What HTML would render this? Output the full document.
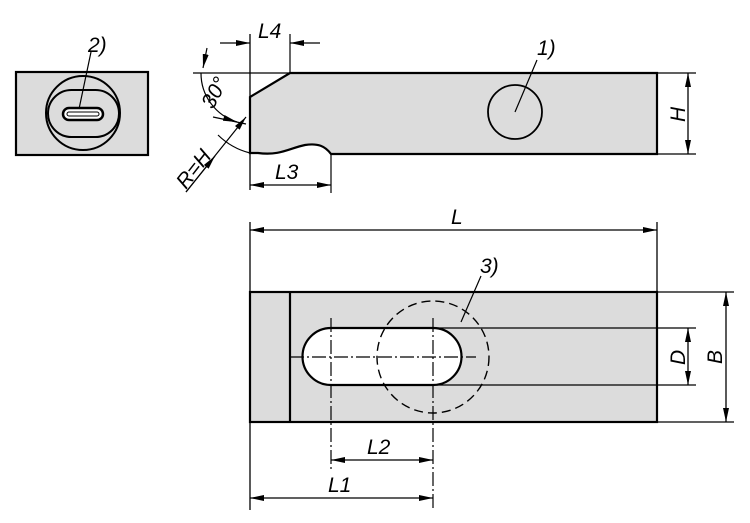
<!DOCTYPE html>
<html><head><meta charset="utf-8"><style>
html,body{margin:0;padding:0;background:#fff}
svg{display:block}
text{font-family:"Liberation Sans",sans-serif;font-style:italic;font-size:21px;fill:#000}
</style></head><body>
<svg width="750" height="523" viewBox="0 0 750 523" xmlns="http://www.w3.org/2000/svg">
<defs>
<marker id="a" viewBox="0 0 14 6" refX="14" refY="3" markerWidth="14" markerHeight="6" orient="auto-start-reverse" markerUnits="userSpaceOnUse"><path d="M0,0 L14,3 L0,6z" fill="#000"/></marker>
</defs>
<g stroke="#000" fill="none">
<!-- left view -->
<rect x="16" y="72" width="132" height="83" fill="#dcdcdc" stroke-width="2.2"/>
<circle cx="83" cy="113" r="37" stroke-width="2"/>
<rect x="48" y="90" width="71" height="47" rx="23.5" stroke-width="2"/>
<rect x="63" y="108" width="40" height="12" rx="6" fill="#fff" stroke-width="2.5"/>
<rect x="67" y="112" width="32" height="4" rx="2" stroke-width="1"/>
<line x1="79" y1="109" x2="91" y2="52" stroke-width="1.2"/>

<!-- top view -->
<path d="M290,73 L657,73 L657,154 L331,154 C325,146 318,143 305,145 C290,148 280,156 258,153 L250,153 L250,97 Z" fill="#dcdcdc" stroke-width="2.2"/>
<circle cx="515" cy="112" r="27" stroke-width="1.8"/>
<line x1="515" y1="112" x2="537" y2="60" stroke-width="1.2"/>
<line x1="657" y1="73" x2="696" y2="73" stroke-width="1.2"/>
<line x1="657" y1="154" x2="696" y2="154" stroke-width="1.2"/>
<line x1="688" y1="73" x2="688" y2="154" stroke-width="1.3" marker-start="url(#a)" marker-end="url(#a)"/>
<!-- L4 -->
<line x1="250" y1="34" x2="250" y2="190" stroke-width="1.3"/>
<line x1="290" y1="34" x2="290" y2="73" stroke-width="1.2"/>
<line x1="220" y1="43" x2="250" y2="43" stroke-width="1.2" marker-end="url(#a)"/>
<line x1="320" y1="43" x2="290" y2="43" stroke-width="1.2" marker-end="url(#a)"/>
<line x1="193" y1="73" x2="290" y2="73" stroke-width="1.2"/>
<!-- L3 -->
<line x1="331" y1="154" x2="331" y2="193" stroke-width="1.2"/>
<line x1="250" y1="185" x2="331" y2="185" stroke-width="1.2" marker-start="url(#a)" marker-end="url(#a)"/>
<!-- angle arc & R -->
<line x1="207" y1="48" x2="203" y2="68" stroke-width="1.2" marker-end="url(#a)"/>
<path d="M201,73 A51,51 0 0 0 237,122" stroke-width="1.2" marker-end="url(#a)"/>
<line x1="213" y1="117" x2="246" y2="124" stroke-width="1.2"/>
<path d="M218,135 A70,70 0 0 0 250,153" stroke-width="1.2"/>
<line x1="186" y1="192" x2="246" y2="117" stroke-width="1.2" marker-end="url(#a)"/>
<line x1="186" y1="192" x2="215" y2="156" stroke-width="1.2" marker-end="url(#a)"/>

<!-- bottom view -->
<line x1="250" y1="222" x2="250" y2="510" stroke-width="1.3"/>
<line x1="657" y1="222" x2="657" y2="292" stroke-width="1.3"/>
<line x1="250" y1="230" x2="657" y2="230" stroke-width="1.2" marker-start="url(#a)" marker-end="url(#a)"/>
<rect x="250" y="292" width="407" height="130" fill="#dcdcdc" stroke-width="2.2"/>
<line x1="290" y1="292" x2="290" y2="422" stroke-width="2.2"/>
<line x1="433" y1="328" x2="696" y2="328" stroke-width="1.2"/>
<line x1="433" y1="385" x2="696" y2="385" stroke-width="1.2"/>
<line x1="657" y1="292" x2="734" y2="292" stroke-width="1.2"/>
<line x1="657" y1="422" x2="734" y2="422" stroke-width="1.2"/>
<path d="M331,328 L433,328 A28.5,28.5 0 0 1 433,385 L331,385 A28.5,28.5 0 0 1 331,328 Z" fill="#fff" stroke-width="2.2"/>
<line x1="290" y1="357" x2="476" y2="357" stroke-width="1.2" stroke-dasharray="14,3,2,3"/>
<line x1="331" y1="318" x2="331" y2="470" stroke-width="1.2" stroke-dasharray="14,3,2,3"/>
<line x1="433" y1="318" x2="433" y2="508" stroke-width="1.2" stroke-dasharray="14,3,2,3"/>
<circle cx="433" cy="357" r="56" stroke-width="1.4" stroke-dasharray="9,5"/>
<line x1="461" y1="322" x2="481" y2="276" stroke-width="1.2"/>
<line x1="688" y1="328" x2="688" y2="385" stroke-width="1.3" marker-start="url(#a)" marker-end="url(#a)"/>
<line x1="726" y1="292" x2="726" y2="422" stroke-width="1.3" marker-start="url(#a)" marker-end="url(#a)"/>
<line x1="331" y1="460" x2="433" y2="460" stroke-width="1.2" marker-start="url(#a)" marker-end="url(#a)"/>
<line x1="250" y1="498" x2="433" y2="498" stroke-width="1.2" marker-start="url(#a)" marker-end="url(#a)"/>
</g>
<text x="88" y="52">2)</text>
<text x="537" y="55">1)</text>
<text x="480" y="273">3)</text>
<text x="258" y="38">L4</text>
<text x="275" y="179">L3</text>
<text x="451" y="224">L</text>
<text x="367" y="454">L2</text>
<text x="328" y="492">L1</text>
<text transform="translate(685,122) rotate(-90)">H</text>
<text transform="translate(685,365) rotate(-90)">D</text>
<text transform="translate(722,364) rotate(-90)">B</text>
<text transform="translate(213,110) rotate(-62)">30°</text>
<text transform="translate(186,190) rotate(-52)">R=H</text>
</svg>
</body></html>
